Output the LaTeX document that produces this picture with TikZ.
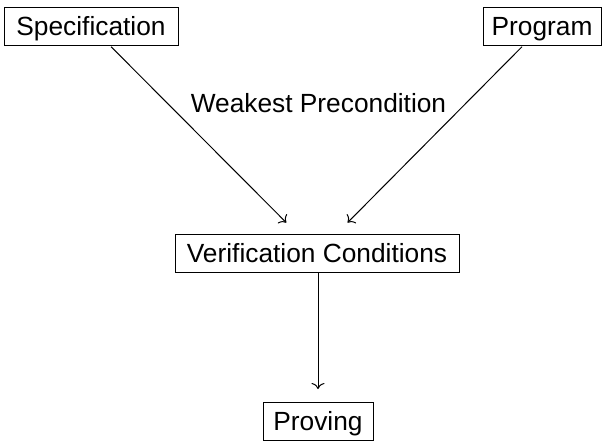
\documentclass[tikz,border=0pt]{standalone}
\usepackage{fontspec}
\setmainfont{Liberation Sans}
\usetikzlibrary{arrows.meta}
\begin{document}
\begin{tikzpicture}[x=1pt,y=-1pt,
  txt/.style={font=\fontsize{26.3}{30}\selectfont},
  box/.style={txt, draw, line width=1pt, inner xsep=0pt, inner ysep=0pt,
    text height=28pt, text depth=10pt},
  conn/.style={-{Computer Modern Rightarrow[length=6pt,width=13pt]}, line width=1pt, shorten >=16pt, shorten <=1pt}]
\useasboundingbox (0,0) rectangle (605,444);
\node[box, minimum width=174pt] (spec) at (91,26.5) {Specification};
\node[box, minimum width=118pt] (prog) at (542,26.5) {Program};
\node[box, minimum width=284pt] (vc) at (317,253.5) {Verification Conditions};
\node[box, minimum width=110pt] (prov) at (318,421.5) {Proving};
\node[txt, inner sep=0pt, anchor=base] (wp) at (318.5,112) {Weakest Precondition};
\draw[conn] (spec) -- (vc);
\draw[conn] (prog) -- (vc);
\draw[conn, shorten >=13pt, shorten <=0pt] (vc.south -| prov.north) -- (prov.north);
\end{tikzpicture}
\end{document}
